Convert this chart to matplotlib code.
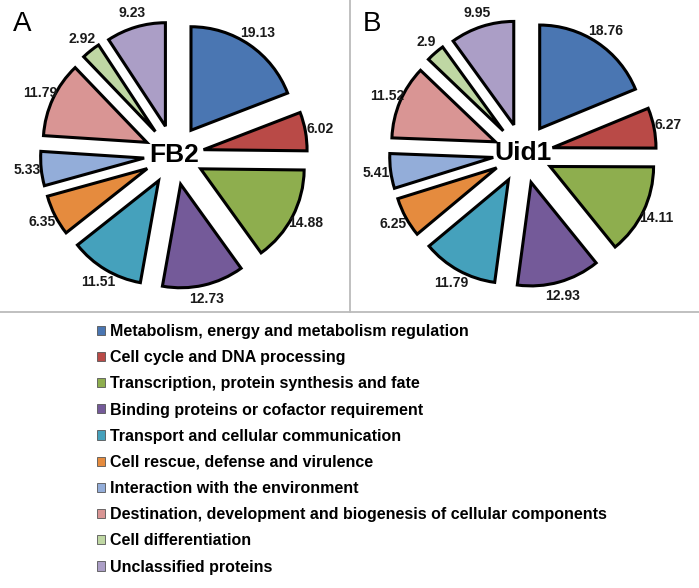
import numpy as np
import matplotlib
matplotlib.use('Agg')
import matplotlib.pyplot as plt
from matplotlib.patches import Patch
from matplotlib.lines import Line2D

plt.rcParams['font.family'] = ['Liberation Sans', 'DejaVu Sans']

categories = ['Metabolism, energy and metabolism regulation',
              'Cell cycle and DNA processing',
              'Transcription, protein synthesis and fate',
              'Binding proteins or cofactor requirement',
              'Transport and cellular communication',
              'Cell rescue, defense and virulence',
              'Interaction with the environment',
              'Destination, development and biogenesis of cellular components',
              'Cell differentiation',
              'Unclassified proteins']
fb2 = [19.13, 6.02, 14.88, 12.73, 11.51, 6.35, 5.33, 11.79, 2.92, 9.23]
uid1 = [18.76, 6.27, 14.11, 12.93, 11.79, 6.25, 5.41, 11.52, 2.9, 9.95]
fb2_labels = ['19.13', '6.02', '14.88', '12.73', '11.51', '6.35', '5.33', '11.79', '2.92', '9.23']
uid1_labels = ['18.76', '6.27', '14.11', '12.93', '11.79', '6.25', '5.41', '11.52', '2.9', '9.95']
colors = ['#4A76B2', '#B94A47', '#8EAE4E', '#745A99', '#45A1BC',
          '#E58B3E', '#93ADD9', '#D99594', '#BFD7A3', '#AB9EC6']

W, H = 699, 588
fig = plt.figure(figsize=(W / 100, H / 100), dpi=100)


def draw_pie(left_px, cx, cy, values, labels, name, letter):
    # axes covers one panel, 1 data unit = r px, pie centred at (cx, cy) px inside panel
    r = 103.5
    pw, ph = 349.0, 311.0
    ax = fig.add_axes([left_px / W, 1 - ph / H, pw / W, ph / H])
    wedges, texts = ax.pie(values, labels=labels, colors=colors, startangle=90, counterclock=False,
                           explode=[0.29] * len(values), labeldistance=1.14,
                           wedgeprops=dict(edgecolor='black', linewidth=2.2, joinstyle='miter'),
                           textprops=dict(fontsize=10, fontweight='bold', color='#1a1a1a'))
    for t in texts:
        t.set_ha('center')
    ax.set_xlim(-cx / r, (pw - cx) / r)
    ax.set_ylim(-(ph - cy) / r, cy / r)
    ax.set_aspect('auto')
    ax.axis('off')
    ax.text(0, 0, name, ha='center', va='center', fontsize=19, fontweight='bold')
    fig.text((left_px + 13) / W, 1 - 24 / H, letter, ha='left', va='center', fontsize=20)


draw_pie(0, 174, 155, fb2, fb2_labels, 'FB2', 'A')
draw_pie(350, 173, 153.5, uid1, uid1_labels, 'Uid1', 'B')

# panel frame lines
fig.add_artist(Line2D([0, 1], [1 - 312 / H, 1 - 312 / H], color='#BBBBBB', lw=1.3))
fig.add_artist(Line2D([350 / W, 350 / W], [1 - 312 / H, 1], color='#BBBBBB', lw=1.3))

handles = [Patch(facecolor=c, edgecolor='#555555', linewidth=0.6) for c in colors]
fig.legend(handles, categories, loc='upper left', bbox_to_anchor=(97 / W, 1 - 324 / H),
           frameon=False, borderpad=0, borderaxespad=0, handlelength=0.5, handleheight=0.5,
           handletextpad=0.3, labelspacing=0.7,
           prop=dict(size=11.5, weight='bold'))

plt.savefig('out.png', dpi=100)
